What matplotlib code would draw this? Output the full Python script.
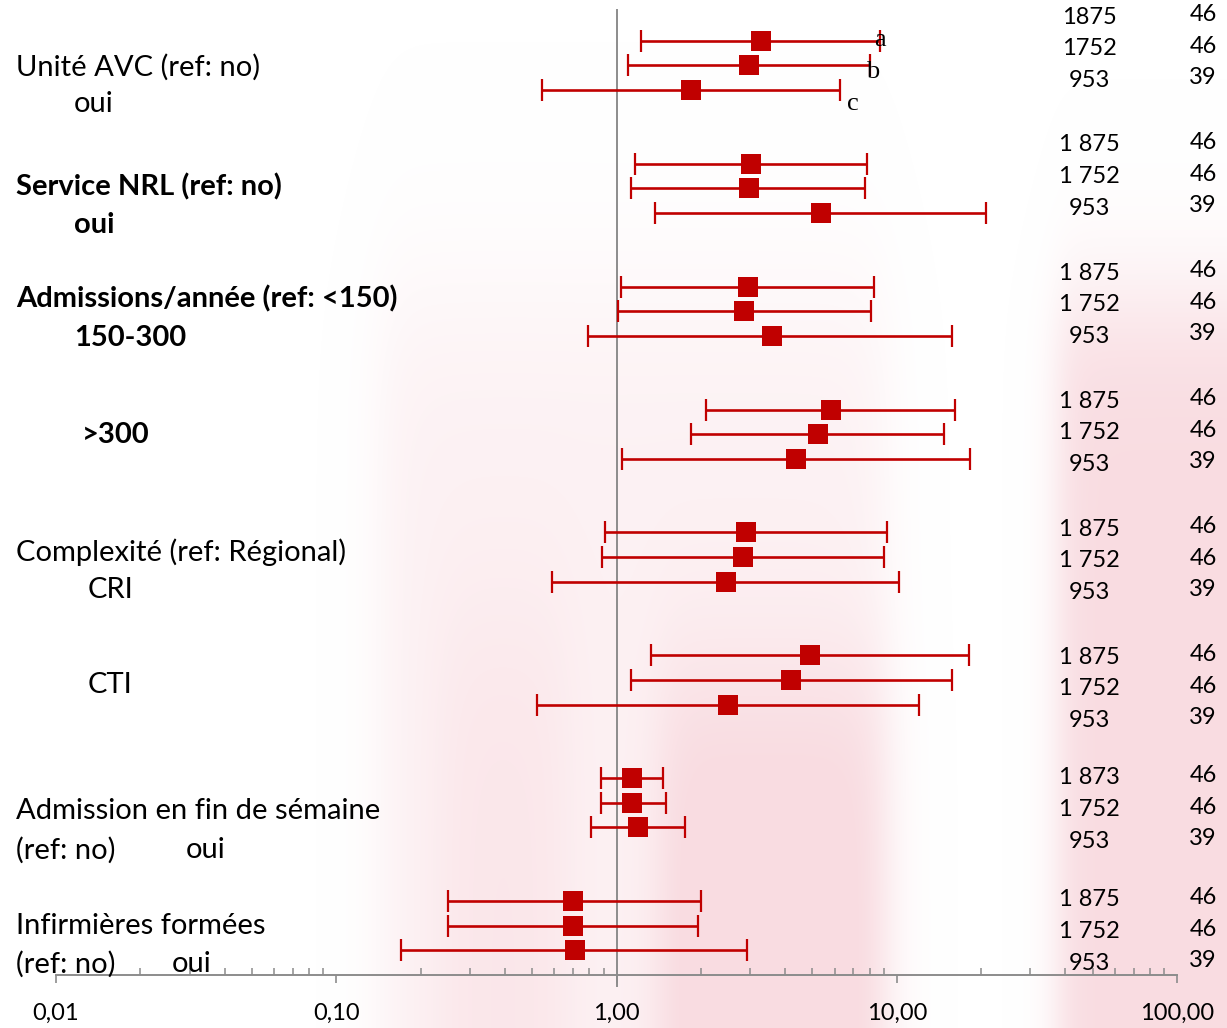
import numpy as np
import matplotlib
matplotlib.use("Agg")
import matplotlib.pyplot as plt

plt.rcParams['font.family'] = ['Lato', 'DejaVu Sans']

# ---------------- data ----------------
# odds ratios (point), lower CI, upper CI; 8 groups x 3 models (a, b, c)
or_point = [3.27, 2.96, 1.84,
            3.01, 2.96, 5.35,
            2.94, 2.84, 3.58,
            5.81, 5.22, 4.36,
            2.89, 2.82, 2.45,
            4.89, 4.18, 2.49,
            1.14, 1.14, 1.19,
            0.70, 0.70, 0.71]
ci_low = [1.22, 1.10, 0.54,
          1.16, 1.13, 1.37,
          1.04, 1.01, 0.79,
          2.08, 1.85, 1.05,
          0.91, 0.89, 0.59,
          1.33, 1.13, 0.52,
          0.88, 0.88, 0.81,
          0.25, 0.25, 0.17]
ci_high = [8.70, 8.01, 6.26,
           7.81, 7.69, 20.9,
           8.27, 8.07, 15.7,
           16.2, 14.8, 18.2,
           9.21, 8.99, 10.2,
           18.1, 15.7, 12.0,
           1.47, 1.50, 1.75,
           2.00, 1.96, 2.91]

n_patients = [["1875", "1752", "953"],
              ["1 875", "1 752", "953"],
              ["1 875", "1 752", "953"],
              ["1 875", "1 752", "953"],
              ["1 875", "1 752", "953"],
              ["1 875", "1 752", "953"],
              ["1 873", "1 752", "953"],
              ["1 875", "1 752", "953"]]
n_hospitals = ["46", "46", "39"]
model_letters = ["a", "b", "c"]

tick_values = [0.01, 0.1, 1, 10, 100]
tick_labels = ["0,01", "0,10", "1,00", "10,00", "100,00"]

# left labels: (text, x_px, y_px, bold)
row_labels = [
    ("Unité AVC (ref: no)", 16, 67, False),
    ("oui", 74, 104, False),
    ("Service NRL (ref: no)", 16, 187, True),
    ("oui", 74, 225, True),
    ("Admissions/année (ref: <150)", 16, 299, True),
    ("150-300", 74, 338, True),
    (">300", 82, 435, True),
    ("Complexité (ref: Régional)", 16, 552, False),
    ("CRI", 88, 590, False),
    ("CTI", 88, 685, False),
    ("Admission en fin de sémaine", 16, 811, False),
    ("(ref: no)", 16, 850, False),
    ("oui", 186, 850, False),
    ("Infirmières formées", 16, 926, False),
    ("(ref: no)", 16, 964, False),
    ("oui", 172, 964, False),
]

# ---------------- layout ----------------
W, H = 1227, 1028
fig = plt.figure(figsize=(W / 100, H / 100), dpi=100)

def fx(px):
    return px / W

def fy(py):
    return 1 - py / H

# faint watermark-like background (smooth pink bands)
bg = fig.add_axes([0, 0, 1, 1], zorder=0)
bg.set_xlim(0, W)
bg.set_ylim(H, 0)
bg.axis('off')
xx, yy = np.meshgrid(np.arange(W), np.arange(H))

def band(x0, x1, y0, soft):
    sx = 1 / (1 + np.exp(-(xx - x0) / soft)) * 1 / (1 + np.exp((xx - x1) / soft))
    sy = 1 / (1 + np.exp(-(yy - y0) / (soft * 4)))
    return sx * sy

alpha = (0.40 * band(380, 885, 300, 14)
         + 0.70 * band(660, 885, 680, 12)
         + 0.30 * band(440, 565, 620, 14)
         + 1.00 * band(1057, 1320, 300, 10))
alpha = np.clip(alpha, 0, 1.0)
img = np.zeros((H, W, 4))
img[..., 0] = 249 / 255
img[..., 1] = 220 / 255
img[..., 2] = 225 / 255
img[..., 3] = alpha
bg.imshow(img, extent=[0, W, H, 0], aspect='auto', interpolation='bilinear')

ax_left, ax_right = 56, 1177
ax_bottom, ax_top = 975, 10
ax = fig.add_axes([fx(ax_left), fy(ax_bottom), (ax_right - ax_left) / W,
                   (ax_bottom - ax_top) / H], zorder=1)
ax.patch.set_alpha(0)
ymax = 39.25
ax.set_xscale('log')
ax.set_xlim(0.01, 100)
ax.set_ylim(0, ymax)

n_groups = 8
ypos = []
for g in range(n_groups):
    for j in range(3):
        ypos.append(38 - 5 * g - j)
ypos = np.array(ypos, dtype=float)
pt = np.array(or_point)
lo = np.array(ci_low)
hi = np.array(ci_high)

red = '#C00000'
ax.errorbar(pt, ypos, xerr=[pt - lo, hi - pt], fmt='none',
            ecolor=red, elinewidth=1.9, capsize=8, capthick=1.6, zorder=3)
ax.plot(pt, ypos, 's', color=red, markersize=14.5, markeredgewidth=0, zorder=4)

# vertical reference line at 1
ax.plot([1, 1], [-0.45, ymax], color='#8C8C8C', lw=1.4, clip_on=False, zorder=2)

for s in ['top', 'right', 'left']:
    ax.spines[s].set_visible(False)
ax.spines['bottom'].set_color('#8C8C8C')
ax.spines['bottom'].set_linewidth(1.4)
ax.set_yticks([])
ax.set_xticks(tick_values)
ax.set_xticklabels(tick_labels)
ax.xaxis.set_minor_locator(matplotlib.ticker.LogLocator(base=10, subs=np.arange(2, 10)))
ax.xaxis.set_minor_formatter(matplotlib.ticker.NullFormatter())
ax.tick_params(axis='x', which='major', direction='out', length=6, width=1.2,
               color='#8C8C8C', labelsize=17, pad=14, labelcolor='black')
ax.tick_params(axis='x', which='minor', direction='in', length=5, width=1.1,
               color='#8C8C8C')

# model letters
letter_pos = [(880, 40), (873, 72), (853, 104)]
for lt, (x, y) in zip(model_letters, letter_pos):
    fig.text(fx(x), fy(y), lt, family='Liberation Serif', fontsize=19,
             ha='center', va='center', zorder=5)

# right-hand columns
group_text_top = [17, 145, 273, 401, 529, 657, 778, 900]
for g in range(n_groups):
    for j in range(3):
        y = group_text_top[g] + 31.6 * j
        fig.text(fx(1089), fy(y), n_patients[g][j], fontsize=17,
                 ha='center', va='center', zorder=5)
        fig.text(fx(1203), fy(y - 2.5), n_hospitals[j], fontsize=17,
                 ha='center', va='center', zorder=5)

for txt, x, y, bold in row_labels:
    fig.text(fx(x), fy(y), txt, fontsize=21,
             fontweight='bold' if bold else 'normal',
             ha='left', va='center', zorder=5)

fig.savefig('out.png', dpi=100)
